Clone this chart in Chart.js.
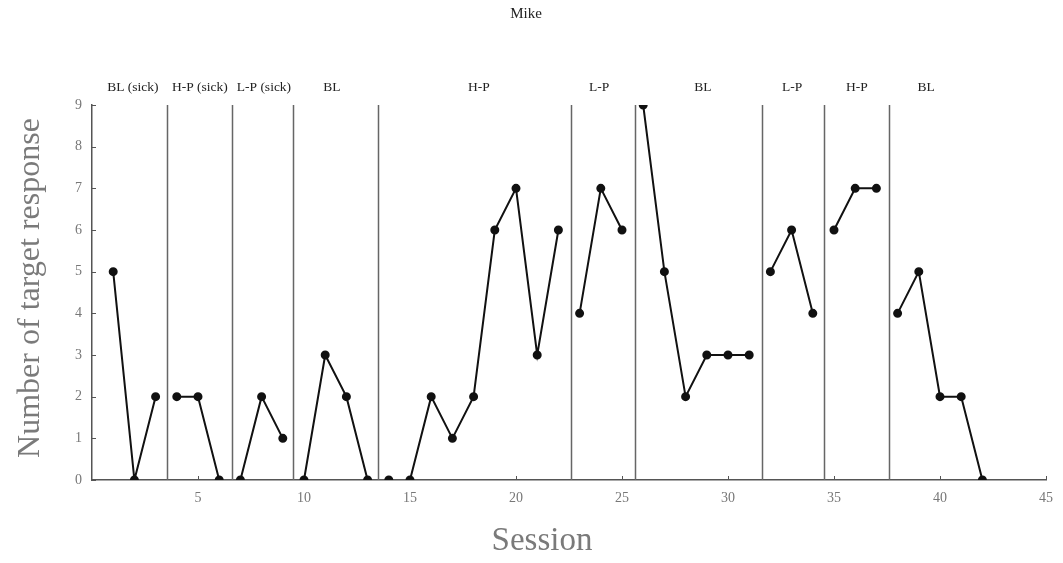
<!DOCTYPE html>
<html>
<head>
<meta charset="utf-8">
<script src="https://cdn.jsdelivr.net/npm/chart.js@4/dist/chart.umd.min.js"></script>
<style>
  html, body { margin: 0; padding: 0; background: #fff; }
  #wrap { width: 1063px; height: 563px; }
</style>
</head>
<body>
<div id="wrap"><canvas id="c" width="1063" height="563"></canvas></div>
<script>
const chartTitle = 'Mike';
const xAxisTitle = 'Session';
const yAxisTitle = 'Number of target response';
const sessions = [1,2,3,4,5,6,7,8,9,10,11,12,13,14,15,16,17,18,19,20,21,22,23,24,25,26,27,28,29,30,31,32,33,34,35,36,37,38,39,40,41,42];
const responses = [5,0,2, 2,2,0, 0,2,1, 0,3,2,0, 0,0,2,1,2,6,7,3,6, 4,7,6, 9,5,2,3,3,3, 5,6,4, 6,7,7, 4,5,2,2,0];
const segmentStarts = [4,7,10,14,15,23,26,32,35,38];
const phaseLabels = ['BL (sick)','H-P (sick)','L-P (sick)','BL','H-P','L-P','BL','L-P','H-P','BL'];
const phaseLabelPos = [1.93,5.09,8.11,11.32,18.25,23.92,28.82,33.02,36.08,39.34];
const phaseChangeLines = [3.55,6.6,9.5,13.5,22.6,25.6,31.6,34.55,37.6];
const xTickValues = [5,10,15,20,25,30,35,40,45];
const yTickValues = [0,1,2,3,4,5,6,7,8,9];

const points = [];
sessions.forEach((s, i) => {
  if (segmentStarts.includes(s)) points.push({x: s - 0.5, y: null});
  points.push({x: s, y: responses[i]});
});

const serif = '"Liberation Serif", "DejaVu Serif", serif';

const decor = {
  id: 'decor',
  beforeDatasetsDraw(chart) {
    const {ctx, scales: {x, y}} = chart;
    ctx.save();
    ctx.strokeStyle = '#666';
    ctx.lineWidth = 1.5;
    phaseChangeLines.forEach(v => {
      const px = Math.round(x.getPixelForValue(v)) + 0.5;
      ctx.beginPath();
      ctx.moveTo(px, y.getPixelForValue(9));
      ctx.lineTo(px, y.getPixelForValue(0));
      ctx.stroke();
    });
    ctx.strokeStyle = '#555';
    ctx.lineWidth = 1;
    const x0 = x.getPixelForValue(0);
    yTickValues.forEach(v => {
      const py = Math.round(y.getPixelForValue(v)) + 0.5;
      ctx.beginPath(); ctx.moveTo(x0, py); ctx.lineTo(x0 + 4, py); ctx.stroke();
    });
    const y0 = y.getPixelForValue(0);
    xTickValues.forEach(v => {
      const px = Math.round(x.getPixelForValue(v)) + 0.5;
      ctx.beginPath(); ctx.moveTo(px, y0); ctx.lineTo(px, y0 - 4); ctx.stroke();
    });
    ctx.restore();
  },
  afterDraw(chart) {
    const {ctx, scales: {x}} = chart;
    ctx.save();
    ctx.fillStyle = '#222';
    ctx.textAlign = 'center';
    ctx.textBaseline = 'middle';
    ctx.font = '15px ' + serif;
    ctx.fillText(chartTitle, 526, 14);
    ctx.font = '13.5px ' + serif;
    phaseLabels.forEach((t, i) => {
      ctx.fillText(t, x.getPixelForValue(phaseLabelPos[i]), 87);
    });
    ctx.fillStyle = '#7a7a7a';
    ctx.font = '33px ' + serif;
    ctx.fillText(xAxisTitle, 542, 541);
    ctx.translate(31, 288);
    ctx.rotate(-Math.PI / 2);
    ctx.font = '32px ' + serif;
    ctx.fillText(yAxisTitle, 0, 0);
    ctx.restore();
  }
};

new Chart(document.getElementById('c'), {
  type: 'line',
  data: {
    datasets: [{
      data: points,
      borderColor: '#111',
      backgroundColor: '#111',
      borderWidth: 2,
      pointRadius: 3.5,
      pointHoverRadius: 3.5,
      spanGaps: false,
      tension: 0
    }]
  },
  options: {
    responsive: false,
    animation: false,
    events: [],
    layout: { padding: { top: 105, right: 16, left: 0, bottom: 0 } },
    plugins: { legend: { display: false }, tooltip: { enabled: false }, title: { display: false } },
    scales: {
      x: {
        type: 'linear',
        min: 0, max: 45,
        afterFit(s) { s.height = 83; },
        afterBuildTicks(s) { s.ticks = xTickValues.map(v => ({value: v})); },
        grid: { display: false, drawTicks: false },
        border: { display: true, color: '#555', width: 1.5 },
        ticks: { color: '#777', font: { family: serif, size: 14 }, padding: 10, maxRotation: 0 },
        title: { display: false }
      },
      y: {
        type: 'linear',
        min: 0, max: 9,
        afterFit(s) { s.width = 92; },
        afterBuildTicks(s) { s.ticks = yTickValues.map(v => ({value: v})); },
        grid: { display: false, drawTicks: false },
        border: { display: true, color: '#555', width: 1.5 },
        ticks: { color: '#777', font: { family: serif, size: 14 }, padding: 10 },
        title: { display: false }
      }
    }
  },
  plugins: [decor]
});
</script>
</body>
</html>
